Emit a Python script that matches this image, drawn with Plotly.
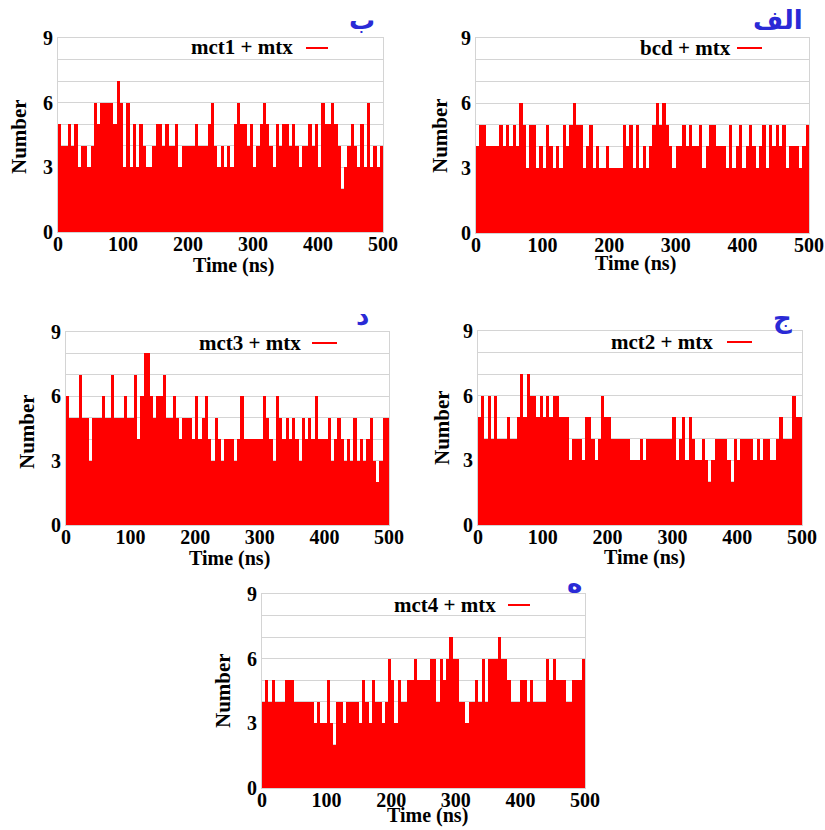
import plotly.graph_objects as go

# ---------------- data (hydrogen-bond count per 5 ns bin) ----------------
TIME_NS = list(range(0, 500, 5))          # bin start times (ns)
X_TICKS = [0, 100, 200, 300, 400, 500]
Y_TICKS = [0, 3, 6, 9]

mct1 = [5, 4, 4, 5, 4, 5, 3, 4, 4, 3, 4, 6, 5, 6, 6, 6, 6, 5, 7, 6,
        3, 6, 3, 5, 3, 5, 4, 3, 3, 4, 5, 5, 4, 5, 4, 4, 5, 3, 4, 4,
        4, 4, 5, 4, 4, 4, 5, 6, 4, 3, 4, 3, 4, 3, 5, 6, 5, 5, 4, 5,
        3, 4, 5, 6, 5, 4, 3, 5, 4, 5, 5, 4, 5, 4, 3, 4, 4, 5, 4, 5,
        3, 6, 5, 5, 6, 5, 4, 2, 3, 4, 5, 4, 3, 5, 3, 6, 3, 4, 3, 4]

bcd = [4, 5, 5, 4, 4, 4, 4, 5, 4, 5, 4, 5, 4, 6, 5, 3, 5, 5, 3, 4,
       3, 5, 4, 3, 4, 3, 5, 4, 5, 6, 5, 5, 3, 4, 5, 3, 4, 3, 3, 4,
       3, 3, 3, 3, 5, 4, 5, 3, 5, 3, 4, 3, 4, 5, 6, 5, 6, 5, 4, 3,
       4, 4, 5, 4, 5, 4, 4, 5, 3, 4, 5, 5, 4, 4, 4, 3, 5, 3, 4, 5,
       3, 4, 5, 4, 3, 4, 5, 3, 5, 4, 5, 4, 5, 3, 4, 4, 4, 3, 4, 5]

mct3 = [6, 5, 5, 5, 7, 5, 5, 3, 5, 5, 5, 6, 5, 5, 7, 5, 5, 5, 6, 5,
        5, 7, 4, 6, 8, 8, 6, 5, 6, 6, 7, 5, 5, 6, 5, 4, 5, 5, 5, 4,
        6, 4, 5, 6, 4, 3, 5, 4, 3, 4, 4, 4, 3, 4, 6, 4, 4, 4, 4, 4,
        4, 6, 5, 4, 3, 6, 5, 4, 5, 4, 5, 4, 3, 5, 4, 5, 4, 6, 4, 4,
        4, 5, 3, 4, 5, 4, 3, 4, 3, 5, 3, 4, 3, 4, 5, 3, 2, 3, 5, 5]

mct2 = [5, 6, 4, 6, 4, 6, 4, 4, 4, 5, 4, 4, 5, 7, 5, 7, 6, 6, 5, 6,
        5, 6, 5, 6, 6, 5, 5, 5, 3, 4, 4, 4, 3, 5, 5, 4, 3, 4, 6, 5,
        5, 4, 4, 4, 4, 4, 4, 3, 3, 3, 4, 3, 4, 4, 4, 4, 4, 4, 4, 4,
        5, 3, 4, 5, 3, 5, 4, 3, 3, 4, 3, 2, 3, 4, 4, 4, 4, 3, 2, 4,
        3, 4, 4, 4, 4, 3, 4, 3, 4, 4, 3, 3, 4, 5, 4, 4, 4, 6, 5, 5]

mct4 = [4, 5, 4, 5, 4, 4, 4, 5, 5, 5, 4, 4, 4, 4, 4, 4, 3, 4, 3, 3,
        5, 3, 2, 4, 4, 3, 4, 4, 4, 4, 3, 5, 4, 3, 5, 4, 4, 3, 4, 6,
        5, 3, 5, 4, 4, 5, 5, 6, 5, 5, 5, 5, 6, 6, 4, 6, 5, 6, 7, 6,
        6, 4, 4, 3, 4, 4, 5, 4, 6, 4, 6, 6, 6, 7, 6, 6, 5, 4, 4, 4,
        5, 5, 4, 5, 4, 4, 4, 4, 6, 5, 6, 5, 5, 5, 4, 4, 5, 5, 5, 6]

SERIES_NAMES = ["mct1 + mtx", "bcd + mtx", "mct3 + mtx", "mct2 + mtx", "mct4 + mtx"]
PANEL_LETTERS = ["ب", "الف", "د", "ج", "ه"]
SERIES_VALUES = [mct1, bcd, mct3, mct2, mct4]

# ---------------- layout (pixel geometry) ----------------
W, H = 825, 830
def PX(x): return x / W
def PY(y): return 1 - y / H

panels = [
    # plot box (x0, x1, ytop, ybottom), legend text centre, legend line x0,x1,y,
    # letter centre, x-title centre, y-title centre
    dict(box=(58, 383, 38, 232), leg=(242, 47), line=(306, 328, 48),
         letter=(362, 20), xt=(233, 265), yt=(19, 137)),
    dict(box=(476, 809, 38, 233), leg=(685, 48), line=(737, 762, 48),
         letter=(778, 20), xt=(635, 263), yt=(440, 136)),
    dict(box=(66, 389, 332, 525), leg=(250, 343), line=(312, 337, 343),
         letter=(362, 316), xt=(229, 558), yt=(27, 432)),
    dict(box=(478, 802, 331, 525), leg=(662, 342), line=(727, 752, 342),
         letter=(782, 318), xt=(644, 557), yt=(442, 428)),
    dict(box=(262, 585, 594, 788), leg=(445, 605), line=(508, 530, 605),
         letter=(574, 583), xt=(427, 815), yt=(223, 691)),
]

SERIF = "Liberation Serif, Times New Roman, serif"
RED = "#ff0000"
GRID = "#d4d4d4"

fig = go.Figure()
annotations = []
shapes = []

for i, (p, name, vals, letter) in enumerate(zip(panels, SERIES_NAMES, SERIES_VALUES, PANEL_LETTERS)):
    n = "" if i == 0 else str(i + 1)
    x0, x1, yt_, yb = p["box"]
    fig.add_trace(go.Bar(
        x=TIME_NS, y=vals, width=5, offset=0,
        marker=dict(color=RED, line=dict(width=0)),
        xaxis="x" + n, yaxis="y" + n, showlegend=False, name=name,
    ))
    fig.layout["xaxis" + n] = dict(
        domain=[PX(x0), PX(x1)], range=[0, 500], anchor="y" + n,
        tickvals=X_TICKS, ticks="", showgrid=False, automargin=False,
        ticklabelstandoff=-6,
        showline=True, linecolor=GRID, mirror=True, zeroline=False,
        tickfont=dict(family=SERIF, size=20, color="black", weight="bold"),
    )
    fig.layout["yaxis" + n] = dict(
        domain=[PY(yb), PY(yt_)], range=[0, 9], anchor="x" + n,
        tickvals=Y_TICKS, ticks="", showgrid=True, gridcolor=GRID, automargin=False,
        minor=dict(dtick=1, showgrid=True, gridcolor=GRID),
        showline=True, linecolor=GRID, mirror=True, zeroline=False,
        tickfont=dict(family=SERIF, size=20, color="black", weight="bold"),
    )
    # legend-like label (text, then short red line)
    annotations.append(dict(
        x=PX(p["leg"][0]), y=PY(p["leg"][1]), xref="paper", yref="paper",
        text=name, showarrow=False, xanchor="center", yanchor="middle",
        font=dict(family=SERIF, size=21, color="black", weight="bold"),
    ))
    lx0, lx1, ly = p["line"]
    shapes.append(dict(type="line", xref="paper", yref="paper",
                       x0=PX(lx0), x1=PX(lx1), y0=PY(ly), y1=PY(ly),
                       line=dict(color=RED, width=2)))
    # panel letter
    annotations.append(dict(
        x=PX(p["letter"][0]), y=PY(p["letter"][1]), xref="paper", yref="paper",
        text=letter, showarrow=False, xanchor="center", yanchor="middle",
        font=dict(family="DejaVu Sans", size=26, color="#2a2ad6", weight="bold"),
    ))
    # axis titles
    annotations.append(dict(
        x=PX(p["xt"][0]), y=PY(p["xt"][1]), xref="paper", yref="paper",
        text="Time (ns)", showarrow=False, xanchor="center", yanchor="middle",
        font=dict(family=SERIF, size=20, color="black", weight="bold"),
    ))
    annotations.append(dict(
        x=PX(p["yt"][0]), y=PY(p["yt"][1]), xref="paper", yref="paper",
        text="Number", showarrow=False, xanchor="center", yanchor="middle",
        textangle=-90,
        font=dict(family=SERIF, size=21, color="black", weight="bold"),
    ))

fig.update_layout(
    width=W, height=H, margin=dict(l=0, r=0, t=0, b=0, pad=0, autoexpand=False),
    paper_bgcolor="white", plot_bgcolor="white",
    bargap=0, showlegend=False,
    annotations=annotations, shapes=shapes,
)

fig.write_html(
    "out.html",
    config={"displayModeBar": False},
    post_script="document.body.style.margin='0';document.body.style.overflow='hidden';"
                "document.documentElement.style.overflow='hidden';",
)
